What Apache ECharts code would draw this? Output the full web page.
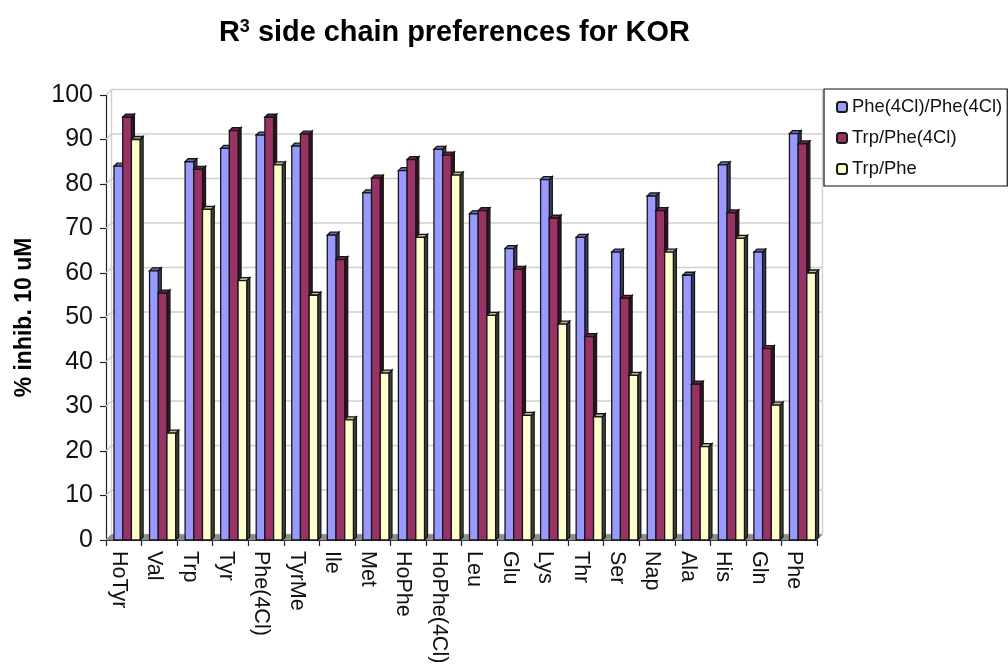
<!DOCTYPE html>
<html><head><meta charset="utf-8">
<style>html,body{margin:0;padding:0;background:#fff}#c{width:1008px;height:665px}</style>
<script src="https://cdn.jsdelivr.net/npm/echarts@6/dist/echarts.min.js"></script>
</head><body><div id="c"></div>
<script>
const categories = ['HoTyr','Val','Trp','Tyr','Phe(4Cl)','TyrMe','Ile','Met','HoPhe','HoPhe(4Cl)','Leu','Glu','Lys','Thr','Ser','Nap','Ala','His','Gln','Phe'];
const pheClPheCl = [84,60.5,85,88,91,88.5,68.5,78,83,87.8,73.3,65.5,81,68,64.7,77.3,59.5,84.3,64.7,91.3];
const trpPheCl   = [95,55.5,83.3,92,95,91.2,63,81.3,85.5,86.5,74,60.8,72.3,45.7,54.3,74,35,73.5,43,89];
const trpPhe     = [90,24,74.3,58.3,84.3,55,27,37.5,68,82,50.5,28,48.5,27.7,37,64.7,21,67.8,30.3,60];
const yTicks = [0,10,20,30,40,50,60,70,80,90,100];

const styles = [
  {name:'Phe(4Cl)/Phe(4Cl)', values:pheClPheCl, face:'#9999FF', top:'#6a6ab8', side:'#3c3c70'},
  {name:'Trp/Phe(4Cl)',      values:trpPheCl,   face:'#993366', top:'#702548', side:'#3a1026'},
  {name:'Trp/Phe',           values:trpPhe,     face:'#FFFFCC', top:'#b8b890', side:'#444434'}
];
const WALL = 5.5, DEPTH = 3, BAR = 8.7, LEAD = 8;
const EDGE = {stroke:'#161616', lineWidth:1.3};

function poly(points, fill){
  return {type:'polygon', shape:{points}, style:Object.assign({fill}, EDGE)};
}
function barRenderer(k, s){
  return function(params, api){
    const p = api.coord([api.value(0), api.value(1)]);
    const b = api.coord([api.value(0), 0]);
    const band = api.size([1,0])[0];
    const x = p[0] - band/2 + LEAD + k*BAR;
    const y = p[1], y0 = b[1], d = DEPTH;
    return {type:'group', children:[
      poly([[x+BAR,y],[x+BAR+d,y-d],[x+BAR+d,y0-d],[x+BAR,y0]], s.side),
      poly([[x,y],[x+d,y-d],[x+BAR+d,y-d],[x+BAR,y]], s.top),
      poly([[x,y],[x+BAR,y],[x+BAR,y0],[x,y0]], s.face)
    ]};
  };
}
function wallRenderer(params, api){
  const c = params.coordSys, y = api.coord([0, api.value(0)])[1];
  const L = c.x, R = c.x + c.width, w = WALL;
  const kids = [{type:'polyline', shape:{points:[[L,y],[L+w,y-w],[R+w,y-w]]},
                 style:{fill:null, stroke:'#d0d0d0', lineWidth:1.4}}];
  if (api.value(0) === 0) {
    kids.push({type:'polygon', shape:{points:[[L,y],[L+w,y-w],[R+w,y-w],[R,y]]},
               style:{fill:'#8c8c8c', stroke:'#8c8c8c', lineWidth:0.5}});
    kids.push({type:'line', shape:{x1:L+w,y1:y-w,x2:L+w,y2:c.y-w},
               style:{stroke:'#d0d0d0', lineWidth:1.4}});
    kids.push({type:'line', shape:{x1:R+w,y1:y-w,x2:R+w,y2:c.y-w},
               style:{stroke:'#d0d0d0', lineWidth:1.4}});
  }
  return {type:'group', children:kids};
}

const series = [{
  type:'custom', name:'wall', silent:true, z:1, renderItem:wallRenderer,
  data:yTicks.map(v=>[v]), encode:{y:0}, clip:false
}].concat(styles.map((s,k)=>({
  type:'custom', name:s.name, z:2+k, clip:false, renderItem:barRenderer(k,s),
  itemStyle:{color:s.face, borderColor:'#1a1a1a', borderWidth:1},
  encode:{x:0,y:1},
  data:s.values.map((v,i)=>[i,v])
})));

const chart = echarts.init(document.getElementById('c'), null, {renderer:'canvas'});
chart.setOption({
  animation:false,
  backgroundColor:'#fff',
  textStyle:{fontFamily:'Liberation Sans'},
  title:{
    left:214, top:13,
    text:'{a|R}{s|3}{a| side chain preferences for KOR}',
    textStyle:{rich:{
      a:{fontFamily:'Liberation Sans', fontWeight:'bold', fontSize:28.9, color:'#000'},
      s:{fontFamily:'Liberation Sans', fontWeight:'bold', fontSize:18, color:'#000', padding:[0,0,13,0]}
    }}
  },
  legend:{
    orient:'vertical', left:824, top:89, width:183,
    padding:[9,5,8,12], itemGap:13, itemWidth:10, itemHeight:10,
    backgroundColor:'#fff', borderColor:'#111', borderWidth:1.2, align:'left',
    selectedMode:false,
    data:styles.map(s=>s.name),
    textStyle:{fontFamily:'Liberation Sans', fontSize:18.4, color:'#111', lineHeight:18}
  },
  grid:{left:106, right:191, top:95, bottom:125, outerBoundsMode:'none', containLabel:false},
  xAxis:{
    type:'category', data:categories, boundaryGap:true,
    axisLine:{lineStyle:{color:'#222', width:1.2}},
    axisTick:{show:true, alignWithLabel:false, length:6, lineStyle:{color:'#222', width:1.2}},
    axisLabel:{rotate:-90, interval:0, margin:11,
      formatter:v=>'{a|'+v+'}',
      rich:{a:{fontSize:21.5, color:'#111', fontFamily:'Liberation Sans', padding:[10,0,0,0]}}}
  },
  yAxis:{
    type:'value', min:0, max:100, interval:10,
    name:'% inhib. 10 uM', nameLocation:'middle', nameGap:70, nameRotate:90,
    nameTextStyle:{fontFamily:'Liberation Sans', fontWeight:'bold', fontSize:23, color:'#000'},
    axisLine:{show:true, lineStyle:{color:'#222', width:1.2}},
    axisTick:{show:true, length:6, lineStyle:{color:'#222', width:1.2}},
    splitLine:{show:false},
    axisLabel:{fontSize:25, color:'#111', margin:13, fontFamily:'Liberation Sans'}
  },
  series
});
</script></body></html>
